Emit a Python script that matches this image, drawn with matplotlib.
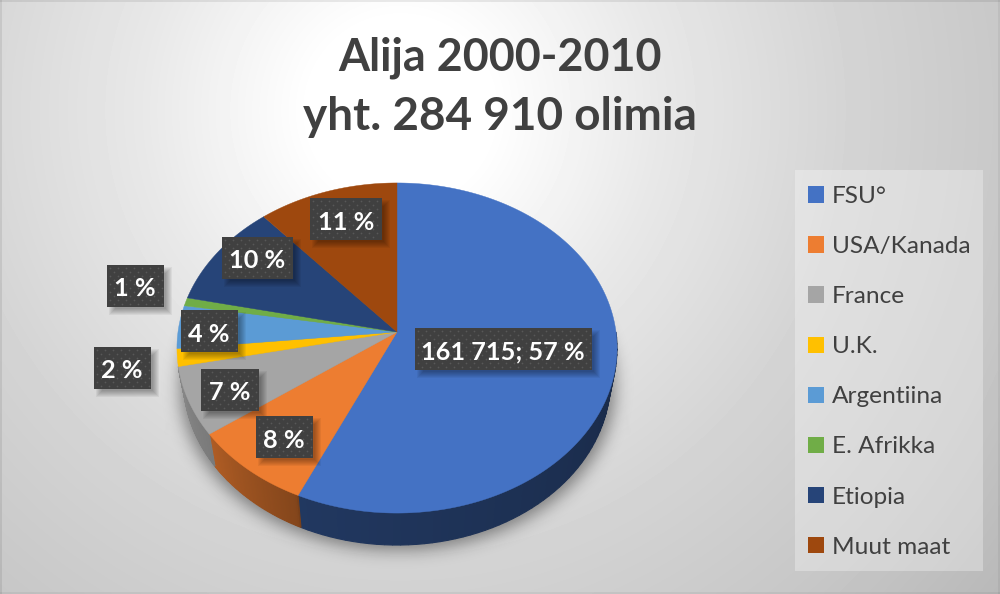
import numpy as np
import matplotlib
matplotlib.use("Agg")
import matplotlib.pyplot as plt
from matplotlib.patches import Rectangle, Patch

# -------------------------------
# Data
# -------------------------------
categories = ["FSU°", "USA/Kanada", "France", "U.K.", "Argentiina",
              "E. Afrikka", "Etiopia", "Muut maat"]
olim = [161715, 23400, 19100, 4900, 12000, 2300, 29200, 32295]
colors = ["#4472C4", "#ED7D31", "#A5A5A5", "#FFC000", "#5B9BD5",
          "#70AD47", "#264478", "#9E480E"]

# box centre of each data label, in pixels
label_pos = [(503, 349), (284, 437), (230, 390), (122, 368),
             (209, 331), (135, 286), (257, 258), (346, 219)]
label_w = [177, 57, 58, 57, 57, 57, 71, 72]

plt.rcParams["font.family"] = ["Lato", "DejaVu Sans"]
TEXT = "#404040"

# pie geometry (pixels)
CX, CY = 397, 332
R, H, P = 219, 163.5, 0.097
DEPTH = 32


def project(theta):
    # clockwise angle from top -> screen point on tilted disc
    u, v = np.sin(theta), np.cos(theta)
    w = 1 + P * v
    return CX + R * u / w, CY - H * v / w


def shade(color, k):
    r = np.array(matplotlib.colors.to_rgb(color))
    return tuple(r * k)


def gauss_blur(img, sigma):
    fy = np.fft.fftfreq(img.shape[0])[:, None]
    fx = np.fft.rfftfreq(img.shape[1])[None, :]
    g = np.exp(-2 * (np.pi * sigma) ** 2 * (fx ** 2 + fy ** 2))
    return np.fft.irfft2(np.fft.rfft2(img) * g, s=img.shape)


fig = plt.figure(figsize=(10, 5.94), dpi=100)
ax = fig.add_axes([0, 0, 1, 1])
ax.set_xlim(0, 1000)
ax.set_ylim(594, 0)
ax.axis("off")

# background gradient
yy, xx = np.mgrid[0:594, 0:1000]
dist = np.sqrt((xx - 400) ** 2 + (yy - 110) ** 2) / 600
bg = 1 - np.interp(dist, [0, 0.15, 0.43, 0.75, 1.04, 1.3], [0, 0, 0.09, 0.17, 0.22, 0.28])
bg[:2, :] *= 0.92
bg[:, :2] *= 0.92
bg[-2:, :] *= 0.95
bg[:, -2:] *= 0.95
ax.imshow(bg, cmap="gray", vmin=0, vmax=1, extent=(0, 1000, 594, 0),
          aspect="auto", zorder=0)

# soft shadow under the pie
mask = (((xx - 397) / 218.0) ** 2 + ((yy - 385) / 165.0) ** 2 < 1).astype(float)
shadow = gauss_blur(mask, 8) * 0.42

# pale reflection wedges left and right of the pie
fade = np.clip(1 - (yy - 350) / 90.0, 0, 1) * (yy > 350)
right = (xx > 560) & (xx < 617 + (yy - 350) * 15 / 90.0)
left = (xx < 300) & (xx > 178 - (yy - 372) * 15 / 62.0)
shadow = np.maximum(shadow, gauss_blur((right | left) * fade, 1.2) * 0.07)

layer = np.zeros(shadow.shape + (4,))
layer[..., 3] = np.clip(shadow, 0, 1)
ax.imshow(layer, extent=(0, 1000, 594, 0), aspect="auto", zorder=1)
ax.set_xlim(0, 1000)
ax.set_ylim(594, 0)

# -------------------------------
# Pie: side wall, then top face
# -------------------------------
fracs = np.array(olim) / sum(olim)
edges = np.concatenate([[0], np.cumsum(fracs)]) * 2 * np.pi

# only the first three slices show a wall, the rest stay hidden behind the top face
for i, c in enumerate(colors[:3]):
    lo, hi = max(edges[i], np.pi / 2), edges[i + 1]
    th = np.linspace(lo, hi, 60)
    for t0, t1 in zip(th[:-1], th[1:]):
        x0, y0 = project(t0)
        x1, y1 = project(t1)
        bx0 = CX + (x0 - CX) * 0.97
        bx1 = CX + (x1 - CX) * 0.97
        k = np.interp(np.degrees(t0), [90, 204, 205, 234, 260], [0.36, 0.49, 0.56, 0.74, 0.82])
        ax.fill([x0, x1, bx1, bx0], [y0, y1, y1 + DEPTH, y0 + DEPTH],
                color=shade(c, k), lw=0.8, zorder=2)

handles = []
for i, c in enumerate(colors):
    th = np.linspace(edges[i], edges[i + 1], 200)
    x, y = project(th)
    ax.fill(np.r_[CX, x], np.r_[CY, y], color=c, lw=0.3, zorder=3)
    handles.append(Patch(facecolor=c, edgecolor="none", label=categories[i]))

# -------------------------------
# Data labels
# -------------------------------
LABEL_H = 42
for i, (cx, cy) in enumerate(label_pos):
    w = label_w[i]
    x0, y0 = cx - w / 2, cy - LABEL_H / 2
    for j in range(7):
        ax.add_patch(Rectangle((x0 + 8 - j, y0 + 8 - j), w + 2 * j - 6, LABEL_H + 2 * j - 6,
                               fc="black", ec="none", alpha=0.05, zorder=4))
    ax.add_patch(Rectangle((x0, y0), w, LABEL_H, fc="#404040", ec="none", zorder=5))
    # dotted fill of the label box
    gx, gy = np.meshgrid(np.arange(x0 + 3, x0 + w - 1, 8), np.arange(y0 + 3, y0 + LABEL_H - 1, 4))
    gx = gx + (np.arange(gx.shape[0])[:, None] % 2) * 4
    keep = gx < x0 + w - 1
    ax.scatter(gx[keep], gy[keep], s=1.6, color="#585858", lw=0, zorder=5)
    pct = round(100 * fracs[i])
    txt = f"{pct} %"
    if i == 0:
        txt = f"{olim[0]:,}".replace(",", " ") + "; " + txt
    ax.text(cx, cy + 3, txt, color="white", fontsize=18.2, fontweight="bold",
            ha="center", va="center", zorder=6)

# -------------------------------
# Title and legend
# -------------------------------
ax.text(500, 58, "Alija 2000-2010", color=TEXT, fontsize=32.3, fontweight="bold",
        ha="center", va="center", zorder=6)
ax.text(500, 117, "yht. 284 910 olimia", color=TEXT, fontsize=33, fontweight="bold",
        ha="center", va="center", zorder=6)

ax.add_patch(Rectangle((795, 170), 188, 401, fc="white", ec="none", alpha=0.3, zorder=5))
leg = ax.legend(handles=handles, loc="upper left", bbox_to_anchor=(0.808, 1 - 186 / 594),
                fontsize=17.6, frameon=False, borderaxespad=0, handlelength=0.65, handleheight=0.65,
                handletextpad=0.33, labelspacing=1.19, borderpad=0, labelcolor=TEXT)
leg.set_zorder(6)

fig.savefig("out.png", dpi=100)
